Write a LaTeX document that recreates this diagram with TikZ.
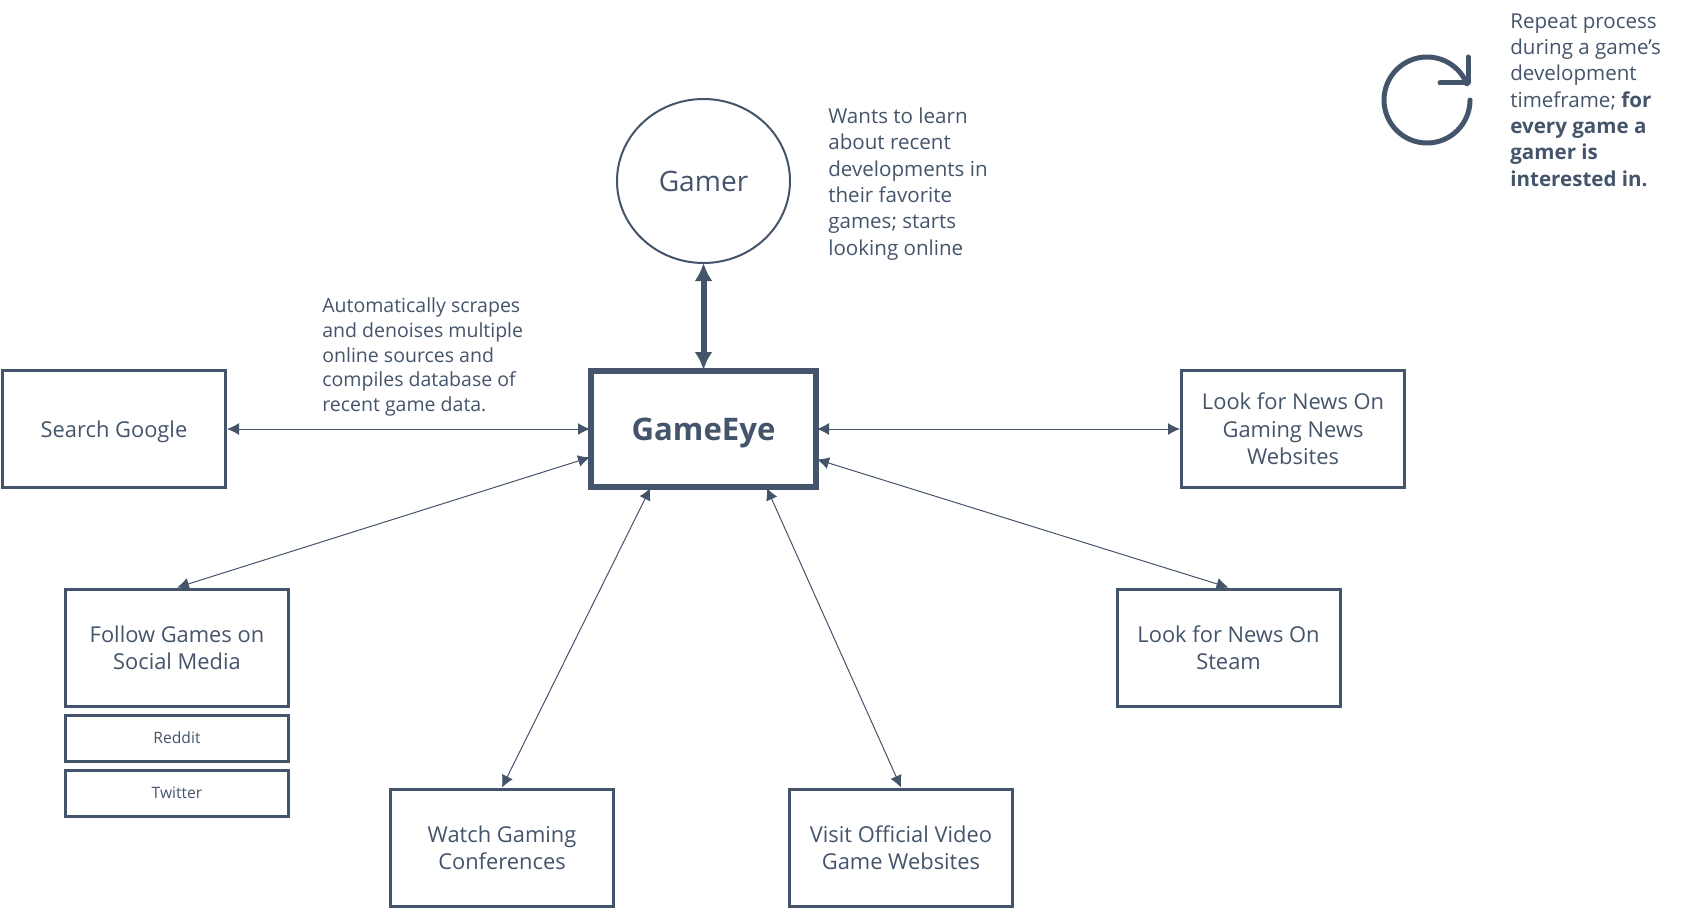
\documentclass[tikz,border=0pt]{standalone}
\usepackage{fontspec}
\setmainfont{Open Sans}
\usepackage{tikz}
\usetikzlibrary{arrows.meta,positioning,shapes.geometric}
\definecolor{slate}{HTML}{44546A}

\begin{document}
\begin{tikzpicture}[
  text=slate,
  font=\fontsize{12.45}{15.6}\selectfont,
  box/.style={draw=slate,line width=0.06cm,align=center,minimum width=4.46cm,minimum height=2.34cm,inner sep=2pt},
  tag/.style={box,minimum height=0.92cm,font=\fontsize{8.9}{11}\selectfont},
  note/.style={align=left,inner sep=0pt,font=\fontsize{11.7}{15}\selectfont},
  arr/.style={{Latex[length=0.24cm,width=0.24cm]}-{Latex[length=0.24cm,width=0.24cm]},draw=slate,line width=0.02cm},
  bigarr/.style={{Latex[length=0.36cm,width=0.36cm]}-{Latex[length=0.36cm,width=0.36cm]},draw=slate,line width=0.12cm}]
\useasboundingbox (0,0) rectangle (33.78,-18.16);
\node[box,line width=0.12cm,outer sep=0.02cm,minimum width=4.5cm,minimum height=2.32cm,text depth=0pt,font=\fontsize{17.7}{20}\selectfont\bfseries] (eye) at (14.07,-8.58) {GameEye};
\node[draw=slate,line width=0.04cm,outer sep=0pt,ellipse,minimum width=3.46cm,minimum height=3.28cm,above=2.14cm of eye,font=\fontsize{16}{18}\selectfont] (gamer) {Gamer};
\node[box,text depth=0pt,left=7.26cm of eye] (google) {Search Google};
\node[box,right=7.26cm of eye] (news) {Look for News On\\Gaming News\\Websites};
\node[box,below=1.99cm of eye,xshift=-10.53cm] (social) {Follow Games on\\Social Media};
\node[box,below=1.99cm of eye,xshift=10.5cm] (steam) {Look for News On\\Steam};
\node[box,below=5.99cm of eye,xshift=-4.03cm] (conf) {Watch Gaming\\Conferences};
\node[box,below=5.99cm of eye,xshift=3.95cm] (site) {Visit Official Video\\Game Websites};
\node[tag,below=0.12cm of social] (reddit) {Reddit};
\node[tag,below=0.12cm of reddit] (twitter) {Twitter};
\node[note,right=0.76cm of gamer,yshift=-0.06cm] (want) {Wants to learn\\about recent\\developments in\\their favorite\\games; starts\\looking online};
\node[note,anchor=west,font=\fontsize{11.1}{14.1}\selectfont] (scrape) at (6.44,-7.14) {Automatically scrapes\\and denoises multiple\\online sources and\\compiles database of\\recent game data.};
\node[note,anchor=west] (repeat) at (30.2,-2) {Repeat process\\during a game's\\development\\timeframe; \textbf{for}\\\textbf{every game a}\\\textbf{gamer is}\\\textbf{interested in.}};
\draw[bigarr] (gamer) -- (eye);
\draw[arr] (google) -- (eye);
\draw[arr] (eye) -- (news);
\draw[arr] (social.north) -- (eye.194.6);
\draw[arr] (steam.north) -- (eye.345.4);
\draw[arr] (conf.north) -- (eye.228);
\draw[arr] (site.north) -- (eye.317);
% refresh icon
\draw[slate,line width=0.1cm,line cap=round,line join=round] (29.4,-2) arc[start angle=0,end angle=-338,radius=0.86cm];
\draw[slate,line width=0.1cm,line cap=round,line join=round] (29.36,-1.14) -- (29.36,-1.66) -- (28.8,-1.66);
\end{tikzpicture}
\end{document}
